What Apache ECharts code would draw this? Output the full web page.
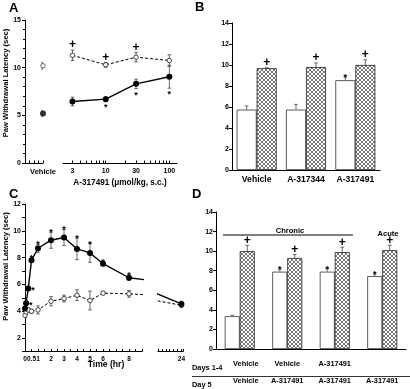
<!DOCTYPE html>
<html><head><meta charset="utf-8">
<script src="https://cdn.jsdelivr.net/npm/echarts@6/dist/echarts.min.js"></script>
<style>html,body{margin:0;padding:0;background:#fff}#c{width:410px;height:389px}</style>
</head><body><div id="c"></div>
<script>
// ---------- Panel A ----------
const aVehCats = ['', '', '', '', 'Vehicle'];
const aVehClosed = 5.2, aVehClosedErr = 0.3;
const aVehOpen = 10.2, aVehOpenErr = 0.35;
const aDoses = [3, 10, 30, 100];
const aClosed = [6.45, 6.7, 8.3, 9.05];
const aClosedErr = [0.45, 0.25, 0.5, 1.2];
const aClosedMark = ['', '*', '*', '*'];
const aOpen = [11.3, 10.3, 11.1, 10.75];
const aOpenErr = [0.55, 0.25, 0.5, 0.6];
const aOpenMark = ['+', '+', '+', ''];
const aDoseLabels = [3, 10, 30, 100];
const aDoseMinorTicks = [3, 4, 5, 6, 7, 8, 9, 10, 20, 30, 40, 50, 60, 70, 80, 90, 100];
// ---------- Panel B ----------
const bCats = ['Vehicle', 'A-317344', 'A-317491'];
const bWhite = [5.75, 5.75, 8.55];
const bWhiteErr = [0.35, 0.5, 0.3];
const bWhiteMark = ['', '', '*'];
const bHatch = [9.7, 9.8, 10.0];
const bHatchErr = [0.05, 0.4, 0.5];
const bHatchMark = ['+', '+', '+'];
// ---------- Panel C ----------
const cTimes = [0, 0.083, 0.25, 0.5, 1, 2, 3, 4, 5, 6, 8, 24];
const cClosed = [4.2, 4.6, 5.7, 7.8, 8.7, 9.3, 9.5, 8.65, 8.35, 7.55, 6.5, 4.55];
const cClosedErr = [0.15, 0.15, 0.15, 0.15, 0.3, 0.6, 0.6, 0.8, 0.7, 0.15, 0.2, 0.2];
const cClosedMark = ['', '*', '*', '*', '*', '*', '*', '*', '*', '*', '*', ''];
const cClosedMarkPos = ['t', 'r', 'r', 't', 't', 't', 't', 't', 't', 't', 't', 't'];
const cOpen = [3.7, 3.95, 4.1, 4.0, 4.1, 4.75, 4.95, 5.2, 4.8, 5.35, 5.3, 4.45];
const cOpenErr = [0.2, 0.2, 0.15, 0.15, 0.3, 0.35, 0.25, 0.4, 0.7, 0.1, 0.25, 0.15];
const cTimeLabels = [0, 0.5, 1, 2, 3, 4, 5, 6, 8];
const cLateLabels = [24];
// ---------- Panel D ----------
const dDays14 = ['Vehicle', 'Vehicle', 'A-317491', ''];
const dDay5 = ['Vehicle', 'A-317491', 'A-317491', 'A-317491'];
const dWhite = [3.35, 7.9, 7.9, 7.45];
const dWhiteErr = [0.1, 0.25, 0.3, 0.2];
const dWhiteMark = ['', '*', '*', '*'];
const dHatch = [10.0, 9.3, 9.9, 10.1];
const dHatchErr = [0.6, 0.35, 0.5, 0.5];
const dHatchMark = ['+', '+', '+', '+'];

const F = "'Liberation Sans', Arial, Helvetica, sans-serif";
const chart = echarts.init(document.getElementById('c'), null, {renderer: 'canvas'});

function hatchCanvas() {
  const c = document.createElement('canvas');
  c.width = 4; c.height = 4;
  const g = c.getContext('2d');
  g.fillStyle = '#fff'; g.fillRect(0, 0, 4, 4);
  g.strokeStyle = '#555'; g.lineWidth = 0.8;
  g.beginPath();
  g.moveTo(0, 0); g.lineTo(4, 4);
  g.moveTo(4, 0); g.lineTo(0, 4);
  g.stroke();
  return c;
}
const HATCH = {image: hatchCanvas(), repeat: 'repeat'};

function zip(xs, ys, es) { return xs.map((x, i) => [x, ys[i], es[i]]); }

function errSeries(xi, yi, data, opt) {
  opt = opt || {};
  return {
    type: 'custom', xAxisIndex: xi, yAxisIndex: yi, clip: true, z: 2,
    silent: true, data: data,
    renderItem: function (params, api) {
      const x = api.value(0), y = api.value(1), e = api.value(2);
      const t = api.coord([x, y + e]);
      const b = api.coord([x, opt.up ? y : y - e]);
      const cx = t[0] + (opt.dx || 0);
      const cap = opt.cap || 1.8;
      const st = {stroke: '#444', lineWidth: 0.8};
      const ch = [
        {type: 'line', shape: {x1: cx, y1: t[1], x2: cx, y2: b[1]}, style: st},
        {type: 'line', shape: {x1: cx - cap, y1: t[1], x2: cx + cap, y2: t[1]}, style: st}
      ];
      if (!opt.up) ch.push({type: 'line', shape: {x1: cx - cap, y1: b[1], x2: cx + cap, y2: b[1]}, style: st});
      const m = opt.marks && opt.marks[params.dataIndex];
      if (m) {
        const pos = (opt.pos && opt.pos[params.dataIndex]) || opt.defPos || 't';
        const isPlus = m === '+';
        const fs = isPlus ? 12 : 9;
        let tx = cx, ty, va = 'bottom', ta = 'center';
        if (pos === 't') { ty = t[1] + (isPlus ? 1 : 5); }
        else if (pos === 'b') { ty = b[1] + 2; va = 'top'; }
        else { tx = cx + 3; ty = api.coord([x, y])[1] + 2; va = 'middle'; ta = 'left'; }
        ch.push({type: 'text', style: {x: tx, y: ty, text: m, fill: '#000', font: 'bold ' + fs + 'px ' + F, align: ta, verticalAlign: va}});
      }
      return {type: 'group', children: ch};
    }
  };
}

const axLine = {lineStyle: {color: '#000', width: 1}};
const tickLbl = {fontFamily: F, fontWeight: 'bold', fontSize: 7, color: '#000'};

const option = {
  animation: false,
  backgroundColor: '#fff',
  grid: [
    {left: 25, top: 20, width: 18, height: 143},
    {left: 63, top: 20, width: 114, height: 143},
    {left: 232, top: 23, width: 148, height: 147},
    {left: 25, top: 204, width: 117, height: 147.5},
    {left: 158, top: 204, width: 25, height: 147.5},
    {left: 216, top: 212, width: 190, height: 141.5}
  ],
  xAxis: [
    {gridIndex: 0, type: 'category', data: aVehCats, boundaryGap: false, axisLine: axLine,
      axisTick: {inside: true, length: 2.5, lineStyle: {color: '#000'}},
      axisLabel: Object.assign({}, tickLbl, {interval: 0, margin: 5, fontSize: 7.5})},
    {gridIndex: 1, type: 'log', logBase: 10, min: 2.13, max: 132, axisLine: axLine, splitLine: {show: false},
      axisTick: {inside: true, length: 2.5, customValues: aDoseMinorTicks, lineStyle: {color: '#000'}},
      axisLabel: Object.assign({customValues: aDoseLabels, margin: 5, formatter: v => String(Math.round(v))}, tickLbl),
      name: 'A-317491 (μmol/kg, s.c.)', nameLocation: 'middle', nameGap: 16,
      nameTextStyle: {fontFamily: F, fontWeight: 'bold', fontSize: 8.2, color: '#000'}},
    {gridIndex: 2, type: 'category', data: bCats, axisLine: axLine, axisTick: {show: false},
      axisLabel: {interval: 0, margin: 5, fontFamily: F, fontWeight: 'bold', fontSize: 8.6, color: '#000'}},
    {gridIndex: 3, type: 'value', min: 0, max: 9, interval: 0.5, axisLine: axLine, splitLine: {show: false},
      axisTick: {inside: true, length: 2.5, lineStyle: {color: '#000'}},
      axisLabel: Object.assign({}, tickLbl, {customValues: cTimeLabels, showMinLabel: true, margin: 4, fontSize: 6.5, formatter: v => String(v)})},
    {gridIndex: 4, type: 'value', min: 18, max: 24.4, interval: 1, axisLine: axLine, splitLine: {show: false},
      axisTick: {inside: true, length: 2.5, lineStyle: {color: '#000'}},
      axisLabel: Object.assign({}, tickLbl, {customValues: cLateLabels, margin: 4, fontSize: 6.5, formatter: v => String(v)})},
    {gridIndex: 5, type: 'category', data: dDay5, axisLine: axLine, axisTick: {show: false},
      axisLabel: {interval: 0, margin: 6, lineHeight: 17, fontFamily: F, fontWeight: 'bold', fontSize: 7.4, color: '#000',
        formatter: (v, i) => i === 0 ? '{p|' + dDays14[i] + '}\n{p|' + dDay5[i] + '}' : dDays14[i] + '\n' + dDay5[i],
        rich: {p: {padding: [0, 0, 0, 12], fontFamily: F, fontWeight: 'bold', fontSize: 7.4, lineHeight: 17, color: '#000'}}}}
  ],
  yAxis: [
    {gridIndex: 0, type: 'value', min: 0, max: 15, interval: 5, axisLine: Object.assign({show: true}, axLine), splitLine: {show: false},
      axisTick: {show: true, length: 3, lineStyle: {color: '#000'}},
      minorTick: {show: true, splitNumber: 5, length: 2, lineStyle: {color: '#000'}},
      axisLabel: Object.assign({margin: 4}, tickLbl)},
    {gridIndex: 1, type: 'value', min: 0, max: 15, show: false},
    {gridIndex: 2, type: 'value', min: 0, max: 14, interval: 2, axisLine: Object.assign({show: true}, axLine), splitLine: {show: false},
      axisTick: {show: true, length: 3, lineStyle: {color: '#000'}},
      axisLabel: Object.assign({margin: 3}, tickLbl)},
    {gridIndex: 3, type: 'value', min: 1, max: 12, interval: 1, axisLine: Object.assign({show: true}, axLine), splitLine: {show: false},
      axisTick: {show: true, length: 3, lineStyle: {color: '#000'}},
      axisLabel: Object.assign({margin: 4, formatter: v => (v % 2 === 0 ? String(v) : '')}, tickLbl)},
    {gridIndex: 4, type: 'value', min: 1, max: 12, show: false},
    {gridIndex: 5, type: 'value', min: 0, max: 14, interval: 2, axisLine: Object.assign({show: true}, axLine), splitLine: {show: false},
      axisTick: {show: true, length: 3, lineStyle: {color: '#000'}},
      axisLabel: Object.assign({margin: 3}, tickLbl)}
  ],
  series: [],
  graphic: [
    {type: 'text', left: 9, top: 2, style: {text: 'A', font: 'bold 13px ' + F, fill: '#000'}},
    {type: 'text', left: 195, top: 1, style: {text: 'B', font: 'bold 13px ' + F, fill: '#000'}},
    {type: 'text', left: 9, top: 188, style: {text: 'C', font: 'bold 13px ' + F, fill: '#000'}},
    {type: 'text', left: 192, top: 188, style: {text: 'D', font: 'bold 13px ' + F, fill: '#000'}},
    {type: 'text', x: 6, y: 83, rotation: Math.PI / 2,
      style: {text: 'Paw Withdrawal Latency (sec)', font: 'bold 7.6px ' + F, fill: '#000', align: 'center', verticalAlign: 'middle'}},
    {type: 'text', x: 6, y: 266.5, rotation: Math.PI / 2,
      style: {text: 'Paw Withdrawal Latency (sec)', font: 'bold 7.6px ' + F, fill: '#000', align: 'center', verticalAlign: 'middle'}},
    {type: 'text', x: 106, y: 365, style: {text: 'Time (hr)', font: 'bold 8.6px ' + F, fill: '#000', align: 'center', verticalAlign: 'middle'}},
    {type: 'line', shape: {x1: 223, y1: 235, x2: 353, y2: 235}, style: {stroke: '#000', lineWidth: 1.2}},
    {type: 'text', x: 290, y: 231, style: {text: 'Chronic', font: 'bold 7.6px ' + F, fill: '#000', align: 'center', verticalAlign: 'middle'}},
    {type: 'text', x: 388, y: 234, style: {text: 'Acute', font: 'bold 7.6px ' + F, fill: '#000', align: 'center', verticalAlign: 'middle'}},
    {type: 'text', x: 192, y: 367.5, style: {text: 'Days 1-4', font: 'bold 7.4px ' + F, fill: '#000', align: 'left', verticalAlign: 'middle'}},
    {type: 'text', x: 192, y: 384.5, style: {text: 'Day 5', font: 'bold 7.4px ' + F, fill: '#000', align: 'left', verticalAlign: 'middle'}},
    {type: 'line', shape: {x1: 192, y1: 376.5, x2: 410, y2: 376.5}, style: {stroke: '#000', lineWidth: 0.8}}
  ]
};

const closedLine = {type: 'line', symbol: 'circle', symbolSize: 6, itemStyle: {color: '#000'},
  lineStyle: {color: '#000', width: 1.4}, z: 3, clip: true};
const openLine = {type: 'line', symbol: 'circle', symbolSize: 4.5, itemStyle: {color: '#fff', borderColor: '#000', borderWidth: 0.7},
  lineStyle: {color: '#000', width: 1, type: [3, 2]}, z: 3, clip: true};

const S = option.series;
// A vehicle
S.push(errSeries(0, 0, [['Vehicle', aVehClosed, aVehClosedErr], ['Vehicle', aVehOpen, aVehOpenErr]]));
S.push(Object.assign({}, closedLine, {xAxisIndex: 0, yAxisIndex: 0, type: 'scatter', data: [['Vehicle', aVehClosed]]}));
S.push(Object.assign({}, openLine, {xAxisIndex: 0, yAxisIndex: 0, type: 'scatter', data: [['Vehicle', aVehOpen]]}));
// A dose-response
S.push(errSeries(1, 1, zip(aDoses, aClosed, aClosedErr), {marks: aClosedMark, defPos: 'b'}));
S.push(errSeries(1, 1, zip(aDoses, aOpen, aOpenErr), {marks: aOpenMark, defPos: 't'}));
S.push(Object.assign({}, closedLine, {xAxisIndex: 1, yAxisIndex: 1, data: aDoses.map((d, i) => [d, aClosed[i]])}));
S.push(Object.assign({}, openLine, {xAxisIndex: 1, yAxisIndex: 1, data: aDoses.map((d, i) => [d, aOpen[i]])}));
// B bars
S.push({type: 'bar', xAxisIndex: 2, yAxisIndex: 2, data: bWhite, barWidth: 20, barGap: '0%', z: 1,
  itemStyle: {color: '#fff', borderColor: '#333', borderWidth: 0.8}});
S.push({type: 'bar', xAxisIndex: 2, yAxisIndex: 2, data: bHatch, barWidth: 20, barGap: '0%', z: 1,
  itemStyle: {color: HATCH, borderColor: '#222', borderWidth: 0.8}});
S.push(errSeries(2, 2, bCats.map((c, i) => [i, bWhite[i], bWhiteErr[i]]), {dx: -10, up: true, marks: bWhiteMark}));
S.push(errSeries(2, 2, bCats.map((c, i) => [i, bHatch[i], bHatchErr[i]]), {dx: 10, up: true, marks: bHatchMark}));
// C time course (two grids for the broken axis)
[[3, 3], [4, 4]].forEach(([xi, yi]) => {
  S.push(errSeries(xi, yi, zip(cTimes, cOpen, cOpenErr)));
  S.push(errSeries(xi, yi, zip(cTimes, cClosed, cClosedErr), {marks: cClosedMark, pos: cClosedMarkPos}));
  S.push(Object.assign({}, openLine, {xAxisIndex: xi, yAxisIndex: yi, data: cTimes.map((t, i) => [t, cOpen[i]])}));
  S.push(Object.assign({}, closedLine, {xAxisIndex: xi, yAxisIndex: yi, data: cTimes.map((t, i) => [t, cClosed[i]])}));
});
// D bars
S.push({type: 'bar', xAxisIndex: 5, yAxisIndex: 5, data: dWhite, barWidth: 15, barGap: '0%', z: 1,
  itemStyle: {color: '#fff', borderColor: '#333', borderWidth: 0.8}});
S.push({type: 'bar', xAxisIndex: 5, yAxisIndex: 5, data: dHatch, barWidth: 15, barGap: '0%', z: 1,
  itemStyle: {color: HATCH, borderColor: '#222', borderWidth: 0.8}});
S.push(errSeries(5, 5, dDay5.map((c, i) => [i, dWhite[i], dWhiteErr[i]]), {dx: -7.5, up: true, marks: dWhiteMark}));
S.push(errSeries(5, 5, dDay5.map((c, i) => [i, dHatch[i], dHatchErr[i]]), {dx: 7.5, up: true, marks: dHatchMark}));

chart.setOption(option);
</script>
</body></html>
